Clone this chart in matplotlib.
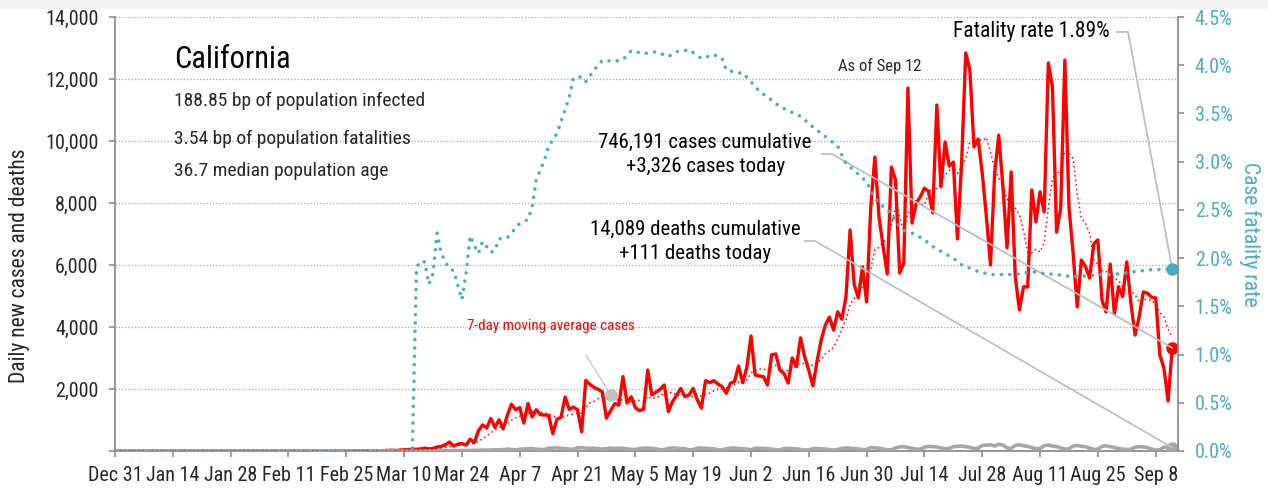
import numpy as np
import pandas as pd
import matplotlib
matplotlib.use("Agg")
import matplotlib.pyplot as plt
from matplotlib import font_manager
from matplotlib.patches import Rectangle

# California, daily new cases, Mar 1 - Sep 12 2020
cases_mar = [3, 5, 8, 10, 12, 20, 25, 15, 30, 40, 45, 60, 55, 70, 90, 70,
             80, 130, 150, 200, 290, 160, 220, 240, 190, 380, 270, 650, 840, 740, 1050]
cases_apr = [760, 1010, 710, 1150, 1510, 1330, 1400, 900, 1530, 1100,
             1330, 1170, 1160, 1150, 560, 1020, 1090, 1740, 1340, 1420,
             1330, 620, 2280, 2150, 2050, 1990, 1910, 1060, 1300, 1530]
cases_may = [1480, 2400, 1550, 1750, 1400, 1300, 1350, 2610, 1810, 1900,
             1990, 2130, 1270, 1590, 1800, 2020, 1750, 1810, 2020, 1650,
             1380, 2270, 2200, 2270, 2160, 2080, 1860, 2180, 2240, 2740, 2200]
cases_jun = [2700, 3710, 2450, 2420, 2400, 2130, 3100, 3130, 2610, 2500,
             2190, 3000, 2720, 3650, 3040, 2600, 2100, 2900, 3580, 4060,
             4320, 3900, 4490, 4250, 4970, 7130, 5360, 4940, 5940, 4810]
cases_jul = [7870, 9480, 7550, 6590, 5710, 9160, 8740, 5740, 6060, 11710,
             7350, 7990, 8200, 8480, 8370, 7680, 11160, 8520, 9970, 9190,
             9320, 6840, 9280, 12840, 12290, 9810, 10060, 8960, 7560, 6000, 8960]
cases_aug = [10190, 8530, 6550, 9000, 5620, 4550, 5300, 5290, 8420, 7390,
             8360, 7710, 12520, 11740, 7060, 7830, 12610, 7870, 6380, 4650,
             6160, 5950, 5580, 6680, 6810, 4870, 4480, 6030, 4420, 5300, 4980]
cases_sep = [6100, 4760, 3740, 4330, 5130, 5090, 4960, 4940, 3100, 2670, 1610, 3326]

# daily new deaths (thin grey line near the bottom)
deaths_mar = [0, 0, 0, 1, 0, 0, 0, 0, 0, 1, 0, 1, 1, 1, 2, 1, 3, 2, 4, 5,
              6, 8, 10, 12, 15, 19, 20, 25, 30, 28, 33]
deaths_apr = [40, 35, 45, 60, 50, 38, 55, 65, 70, 80, 60, 50, 45, 90, 95,
              100, 85, 70, 60, 55, 100, 110, 95, 85, 90, 70, 60, 75, 95, 80]
deaths_may = [90, 85, 70, 50, 45, 80, 90, 95, 85, 70, 40, 45, 85, 100, 90, 80,
              70, 40, 45, 90, 95, 85, 75, 65, 40, 35, 70, 90, 95, 80, 70]
deaths_jun = [60, 40, 85, 90, 80, 75, 60, 40, 35, 80, 85, 75, 70, 50, 30,
              40, 75, 80, 70, 65, 45, 30, 50, 85, 95, 90, 80, 60, 45, 50]
deaths_jul = [110, 100, 90, 60, 40, 40, 100, 130, 140, 110, 90, 60, 60, 120, 150,
              140, 130, 100, 70, 80, 140, 150, 160, 140, 120, 80, 90, 180, 190, 200, 160]
deaths_aug = [220, 190, 100, 80, 180, 200, 170, 150, 110, 70, 80, 170, 190, 160, 140,
              100, 60, 70, 160, 180, 150, 140, 90, 50, 60, 150, 170, 140, 110, 80, 60]
deaths_sep = [50, 60, 120, 140, 130, 110, 60, 30, 40, 120, 130, 111]

# case fatality rate in %, day = days since Dec 31 2019
cfr_day = [0, 72, 73, 74, 75, 76, 77, 78, 79, 80, 81, 82, 83, 84, 85, 86, 87, 88,
           89, 90, 91, 92, 93, 95, 96, 98, 100, 101, 102, 104, 105, 107, 109, 110,
           111, 113, 114, 116, 118, 121, 123, 125, 128, 131, 134, 136, 139, 142,
           145, 147, 148, 151, 152, 154, 156, 158, 161, 166, 169, 172, 175, 177,
           179, 182, 184, 185, 188, 189, 191, 193, 196, 198, 200, 203, 205, 209,
           212, 215, 218, 222, 225, 228, 231, 234, 238, 241, 244, 247, 251, 254, 256]
cfr_pct = [0.0, 0.0, 1.90, 1.97, 1.96, 1.73, 1.84, 2.26, 2.05, 1.96, 1.89, 1.87,
           1.72, 1.57, 1.84, 2.23, 2.13, 2.05, 2.17, 2.12, 2.06, 2.08, 2.20, 2.21,
           2.26, 2.36, 2.40, 2.53, 2.81, 3.02, 3.16, 3.29, 3.54, 3.67, 3.87, 3.88,
           3.83, 3.95, 4.05, 4.04, 4.06, 4.15, 4.12, 4.14, 4.09, 4.14, 4.16, 4.07,
           4.11, 4.07, 3.95, 3.92, 3.92, 3.83, 3.73, 3.67, 3.57, 3.47, 3.36, 3.26,
           3.16, 2.98, 2.91, 2.79, 2.62, 2.57, 2.46, 2.38, 2.29, 2.26, 2.19, 2.12,
           2.07, 2.00, 1.93, 1.86, 1.83, 1.83, 1.83, 1.86, 1.84, 1.83, 1.81, 1.81,
           1.83, 1.83, 1.84, 1.86, 1.88, 1.88, 1.89]

state = "California"
info_lines = ["188.85 bp of population infected",
              "3.54 bp of population fatalities",
              "36.7 median population age"]
total_cases = 746191
total_deaths = 14089
as_of = "Sep 12"

start = pd.Timestamp("2019-12-31")
n_lead = (pd.Timestamp("2020-03-01") - start).days

cases = np.array([0] * n_lead + cases_mar + cases_apr + cases_may + cases_jun
                 + cases_jul + cases_aug + cases_sep)
deaths = np.array([0] * n_lead + deaths_mar + deaths_apr + deaths_may + deaths_jun
                  + deaths_jul + deaths_aug + deaths_sep)
days = np.arange(len(cases))
ma7 = pd.Series(cases).rolling(7, min_periods=1).mean().values

RED = "#FF0000"
TEAL = "#4BACC6"
GREY = "#A6A6A6"
LEAD = "#BFBFBF"
SPINE = "#8C8C8C"
TXT = "#262626"

names = {f.name for f in font_manager.fontManager.ttflist}
narrow = next((n for n in ["Liberation Sans Narrow", "Roboto Condensed", "DejaVu Sans"]
               if n in names), "DejaVu Sans")
plt.rcParams["font.family"] = [narrow, "DejaVu Sans"]

fig = plt.figure(figsize=(12.68, 4.91), dpi=100)
fig.add_artist(Rectangle((0, 1 - 9 / 491), 1, 9 / 491, transform=fig.transFigure,
                         facecolor="#F2F2F2", edgecolor="none"))
ax = fig.add_axes([115 / 1268, 40 / 491, 1063 / 1268, 434 / 491])
ax2 = ax.twinx()

ax.plot(days, cases, color=RED, lw=2.4, solid_joinstyle="round", zorder=3)
ax.plot(days, deaths, color=GREY, lw=2.6, solid_joinstyle="round", zorder=4)
ax.plot(days, ma7, color=RED, lw=1.1, ls=(0, (1, 2)), zorder=5)
ax2.plot(cfr_day, cfr_pct, color=TEAL, lw=2.6, ls=(0, (0.01, 2.3)),
         dash_capstyle="round", zorder=3)

# end markers
last = days[-1]
ax.plot(last, cases[-1], "o", color=RED, ms=8, zorder=6)
ax.plot(last, deaths[-1], "o", color=GREY, ms=8, zorder=6)
ax2.plot(cfr_day[-1], cfr_pct[-1], "o", color=TEAL, ms=8, zorder=6)

ax.set_xlim(0, 257.4)
ax.set_ylim(0, 14000)
ax2.set_ylim(0, 4.5)

xt = list(range(0, last + 1, 14))
ax.set_xticks(xt)
ax.set_xticklabels([f"{(start + pd.Timedelta(days=d)):%b} {(start + pd.Timedelta(days=d)).day}"
                    for d in xt])
yt = list(range(0, 14001, 2000))
ax.set_yticks(yt)
ax.set_yticklabels(["" if v == 0 else f"{v:,}" for v in yt])
rt = np.arange(0, 4.51, 0.5)
ax2.set_yticks(rt)
ax2.set_yticklabels([f"{v:.1f}%" for v in rt])

ax.yaxis.grid(True, color="#A6A6A6", ls=(0, (1, 1.6)), lw=0.9)
ax.set_axisbelow(True)

for a in (ax, ax2):
    a.spines["top"].set_visible(False)
    for s in a.spines.values():
        s.set_color(SPINE)
        s.set_linewidth(1.3)
ax.spines["right"].set_visible(False)
ax2.spines["left"].set_visible(False)
ax2.spines["bottom"].set_visible(False)

ax.tick_params(axis="both", direction="out", length=4, width=1.2, color=SPINE,
               labelsize=14.5, labelcolor=TXT)
ax.tick_params(axis="y", pad=8)
ax.tick_params(axis="x", pad=7)
ax2.tick_params(axis="y", direction="out", length=4, width=1.2, color=SPINE,
                labelsize=14.5, labelcolor=TEAL, pad=8)

fig.text(20 / 1268, 1 - 266 / 491, "Daily new cases and deaths", rotation=90,
         ha="center", va="center", fontsize=15.5, color=TXT)
fig.text(1250 / 1268, 1 - 234 / 491, "Case fatality rate", rotation=270,
         ha="center", va="center", fontsize=15.5, color=TEAL)

# title block
ax.text(0.0555, 0.901, state, transform=ax.transAxes, fontsize=22, color="#000000",
        va="center", ha="left")
for line, yy in zip(info_lines, [0.806, 0.719, 0.645]):
    ax.text(0.0555, yy, line, transform=ax.transAxes, fontsize=14, color=TXT,
            va="center", ha="left")

ax.text(185.2, 12420, f"As of {as_of}", fontsize=12, color=TXT, ha="center", va="center")

# annotations with leader lines
ax.text(142.9, 9565, f"{total_cases:,} cases cumulative\n+{cases[-1]:,} cases today",
        fontsize=15, color="#000000", ha="center", va="center", linespacing=1.3)
ax.plot([171.2, 173.6, last], [9580, 9580, cases[-1]], color=LEAD, lw=1.3, zorder=7)

ax.text(140.4, 6760, f"{total_deaths:,} deaths cumulative\n+{deaths[-1]:,} deaths today",
        fontsize=15, color="#000000", ha="center", va="center", linespacing=1.3)
ax.plot([167.1, 169.5, last], [6775, 6775, deaths[-1]], color=LEAD, lw=1.3, zorder=7)

ax.text(240.9, 13517, f"Fatality rate {cfr_pct[-1]:.2f}%", fontsize=15.5,
        color="#000000", ha="right", va="center")
cfr_end = cfr_pct[-1] * 14000 / 4.5
ax.plot([242.6, 245.3, last], [13517, 13517, cfr_end], color=LEAD, lw=1.3, zorder=7)

ma_day = 120
ax.text(105.6, 4030, "7-day moving average cases", fontsize=10.8, color=RED,
        ha="center", va="center")
ax.plot([114, ma_day], [3100, ma7[ma_day]], color=LEAD, lw=0.8, zorder=7)
ax.plot(ma_day, ma7[ma_day], "o", color="#BFBFBF", ms=8, zorder=7)

fig.savefig("out.png", dpi=100)
